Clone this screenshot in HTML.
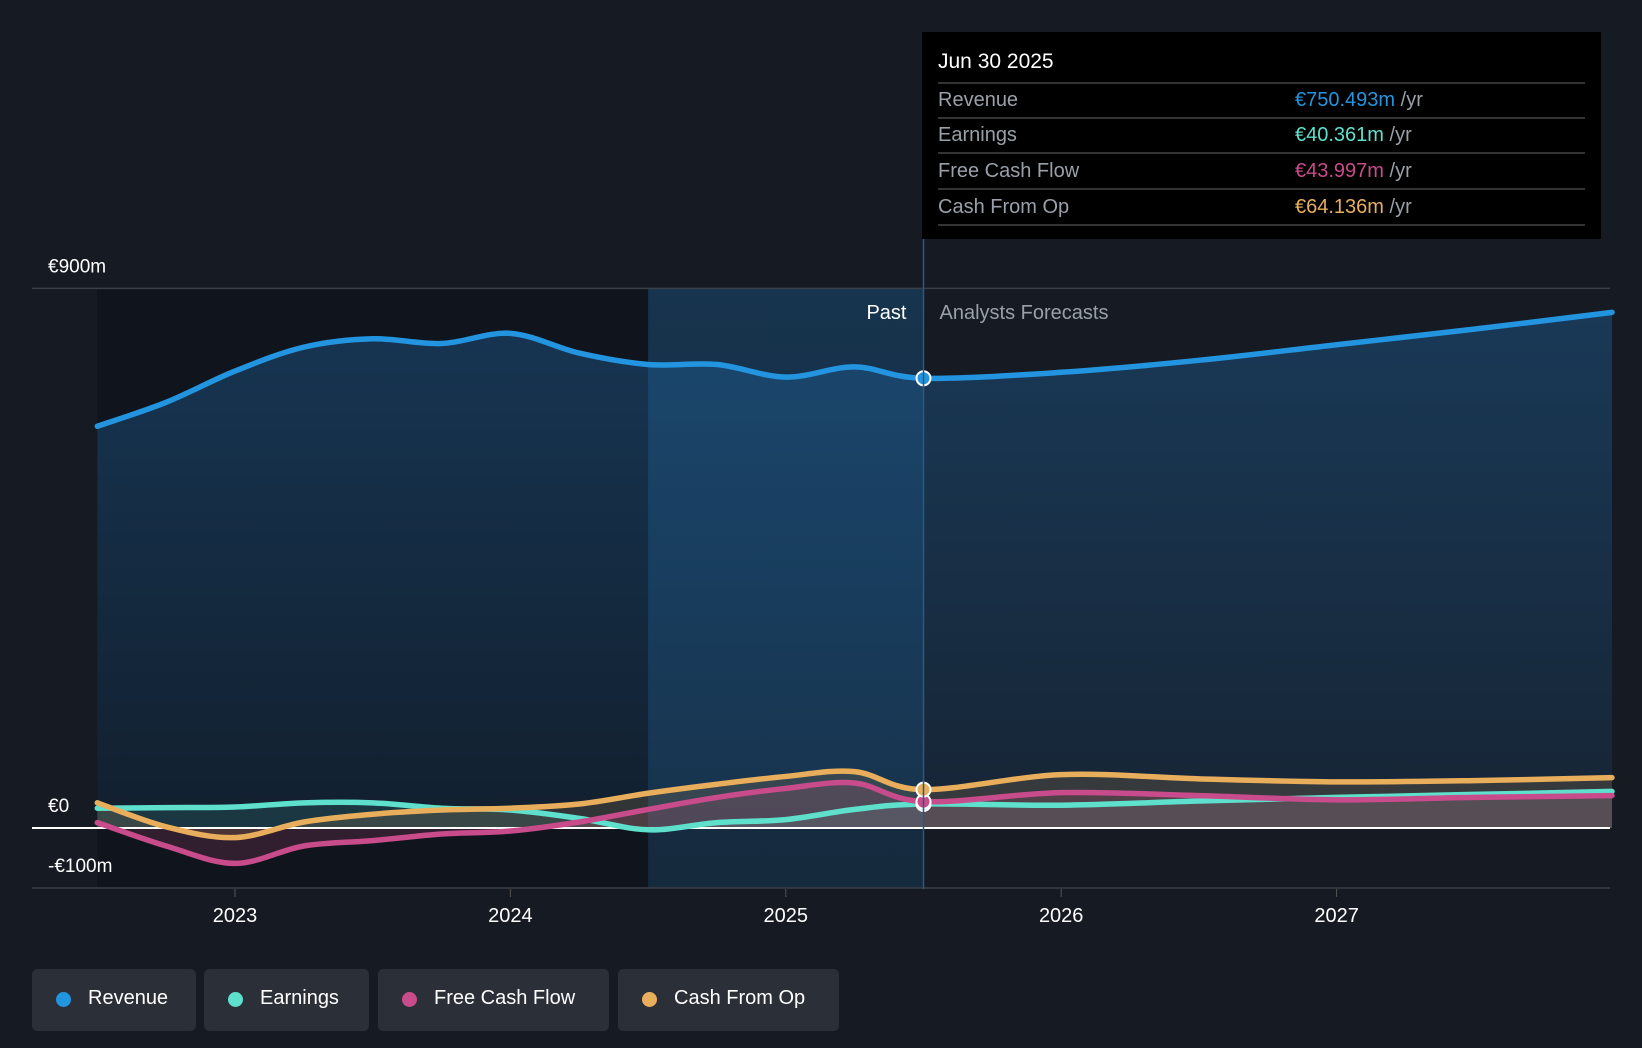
<!DOCTYPE html>
<html><head><meta charset="utf-8"><style>
html,body{margin:0;padding:0;background:#151a23;width:1642px;height:1048px;overflow:hidden;font-family:"Liberation Sans",sans-serif}
svg text{font-family:"Liberation Sans",sans-serif}
</style></head><body>
<svg id="chart" width="1642" height="1048" xmlns="http://www.w3.org/2000/svg">
<defs>
<linearGradient id="revGrad" x1="0" y1="0" x2="0" y2="1">
<stop offset="0" stop-color="#1e5f96" stop-opacity="0.45"/><stop offset="1" stop-color="#1e5f96" stop-opacity="0.15"/></linearGradient>
<linearGradient id="pastGrad" x1="0" y1="0" x2="0" y2="1">
<stop offset="0" stop-color="#1a6aa8" stop-opacity="0.32"/><stop offset="1" stop-color="#1a6aa8" stop-opacity="0.2"/></linearGradient>
</defs>
<g id="bg"></g><g id="areas"></g><g id="grid"></g><g id="lines"></g><g id="overlay"></g>
</svg>
<script>
const years=[2022.5,2022.75,2023,2023.25,2023.5,2023.75,2024,2024.25,2024.5,2024.75,2025,2025.25,2025.5,2026,2026.5,2027,2027.5,2028];
const revenue=[670,710,762,802,816,808,825,792,773,773,752,769,750,760,780,806,832,860];
const earnings=[33,34,35,42,42,33,30,16,-3,9,14,31,40,38,45,51,56,61];
const fcf=[9,-30,-59,-30,-21,-10,-5,10,31,51,66,75,44,59,54,47,51,54];
const cfo=[42,2,-16,10,23,30,33,40,58,73,86,94,64,89,82,77,79,84];
const yTicks=[900,0,-100];
const yTickLabels=["€900m","€0","-€100m"];
const xTicks=[2023,2024,2025,2026,2027];
const NS="http://www.w3.org/2000/svg";
const X=v=>235+(v-2023)*275.4;
const Y=v=>828-v*0.5996;
function el(t,a,p){const e=document.createElementNS(NS,t);for(const k in a)e.setAttribute(k,a[k]);document.getElementById(p).appendChild(e);return e;}
function smooth(xs,ys){let d="M"+X(xs[0])+","+Y(ys[0]);for(let i=0;i<xs.length-1;i++){const p0=i>0?i-1:i,p3=i+2<xs.length?i+2:i+1;
const x1=X(xs[i])+(X(xs[i+1])-X(xs[p0]))/6,y1=Y(ys[i])+(Y(ys[i+1])-Y(ys[p0]))/6,x2=X(xs[i+1])-(X(xs[p3])-X(xs[i]))/6,y2=Y(ys[i+1])-(Y(ys[p3])-Y(ys[i]))/6;
d+=" C"+x1+","+y1+" "+x2+","+y2+" "+X(xs[i+1])+","+Y(ys[i+1]);}return d;}
let r=el("rect",{x:X(2022.5),y:Y(900),width:X(2024.5)-X(2022.5),height:Y(-100)-Y(900),fill:"#10141c"},"bg");

r=el("rect",{x:X(2024.5),y:Y(900),width:X(2025.5)-X(2024.5),height:Y(-100)-Y(900),fill:"url(#pastGrad)"},"bg");

const series=[["revenue",revenue,"#2394df","url(#revGrad)"],["earnings",earnings,"#5ee0cc","rgba(94,224,204,0.12)"],["free-cash-flow",fcf,"#c84b8c","rgba(200,75,140,0.18)"],["cash-from-op",cfo,"#e8ae5b","rgba(232,174,91,0.15)"]];
series.forEach(s=>{const d=smooth(years,s[1]);
const a=el("path",{d:d+" L"+X(2028)+","+Y(0)+" L"+X(2022.5)+","+Y(0)+" Z",fill:s[3]},"areas");

const l=el("path",{d:d,fill:"none",stroke:s[2],"stroke-width":5.5,"stroke-linecap":"round"},"lines");

const i=years.indexOf(2025.5);
const c=el("circle",{cx:X(2025.5),cy:Y(s[1][i]),r:7,fill:s[2],stroke:"#fff","stroke-width":2},"overlay");
});
yTicks.forEach((v,i)=>{const g=el("line",{x1:32,x2:1610,y1:Y(v),y2:Y(v),stroke:v==0?"#ffffff":"#3a4048","stroke-width":v==0?2:1.5},"grid");

const t=el("text",{x:48,y:Y(v)-16,fill:"#fff","font-size":19},"grid");t.textContent=yTickLabels[i];
});
xTicks.forEach(v=>{const tk=el("line",{x1:X(v),x2:X(v),y1:889,y2:897,stroke:"#555"},"grid");
const t=el("text",{x:X(v),y:922,fill:"#fff","font-size":20,"text-anchor":"middle"},"grid");t.textContent=v;
});
let ln=el("line",{x1:X(2025.5),x2:X(2025.5),y1:239,y2:889,stroke:"#2a5a80","stroke-width":1.5},"overlay");
let t=el("text",{x:X(2025.5)-17,y:319,fill:"#fff","font-size":20,"text-anchor":"end"},"overlay");t.textContent="Past";
t=el("text",{x:X(2025.5)+16,y:319,fill:"#9aa0a8","font-size":20},"overlay");t.textContent="Analysts Forecasts";
</script>
<div style="position:absolute;left:922px;top:32px;width:679px;height:207px;background:#000;">
<div style="position:absolute;left:16px;top:18px;color:#fff;font-size:21px">Jun 30 2025</div>
<div style="position:absolute;left:16px;right:16px;top:50px;border-top:2px solid #333"></div>
<div style="position:absolute;left:16px;right:16px;top:52px;font-size:20px;color:#9aa0a8">
<div style="height:33px;line-height:33px;border-bottom:2px solid #333;position:relative">Revenue<span style="position:absolute;left:357px"><span style="color:#2394df">€750.493m</span> /yr</span></div>
<div style="height:33px;line-height:33px;border-bottom:2px solid #333;position:relative">Earnings<span style="position:absolute;left:357px"><span style="color:#5ee0cc">€40.361m</span> /yr</span></div>
<div style="height:34px;line-height:34px;border-bottom:2px solid #333;position:relative">Free Cash Flow<span style="position:absolute;left:357px"><span style="color:#c84b8c">€43.997m</span> /yr</span></div>
<div style="height:34px;line-height:34px;border-bottom:2px solid #333;position:relative">Cash From Op<span style="position:absolute;left:357px"><span style="color:#e8ae5b">€64.136m</span> /yr</span></div>
</div></div>
<div style="position:absolute;left:0;top:969px;font-size:20px;color:#fff">
<div style="position:absolute;left:32px;width:164px;height:62px;background:#2a2f38;border-radius:5px"><span style="position:absolute;left:24px;top:23px;width:15px;height:15px;border-radius:50%;background:#2394df"></span><span style="position:absolute;left:56px;top:18px">Revenue</span></div>
<div style="position:absolute;left:204px;width:165px;height:62px;background:#2a2f38;border-radius:5px"><span style="position:absolute;left:24px;top:23px;width:15px;height:15px;border-radius:50%;background:#5ee0cc"></span><span style="position:absolute;left:56px;top:18px">Earnings</span></div>
<div style="position:absolute;left:378px;width:231px;height:62px;background:#2a2f38;border-radius:5px"><span style="position:absolute;left:24px;top:23px;width:15px;height:15px;border-radius:50%;background:#c84b8c"></span><span style="position:absolute;left:56px;top:18px">Free Cash Flow</span></div>
<div style="position:absolute;left:618px;width:221px;height:62px;background:#2a2f38;border-radius:5px"><span style="position:absolute;left:24px;top:23px;width:15px;height:15px;border-radius:50%;background:#e8ae5b"></span><span style="position:absolute;left:56px;top:18px">Cash From Op</span></div>
</div>
</body></html>
